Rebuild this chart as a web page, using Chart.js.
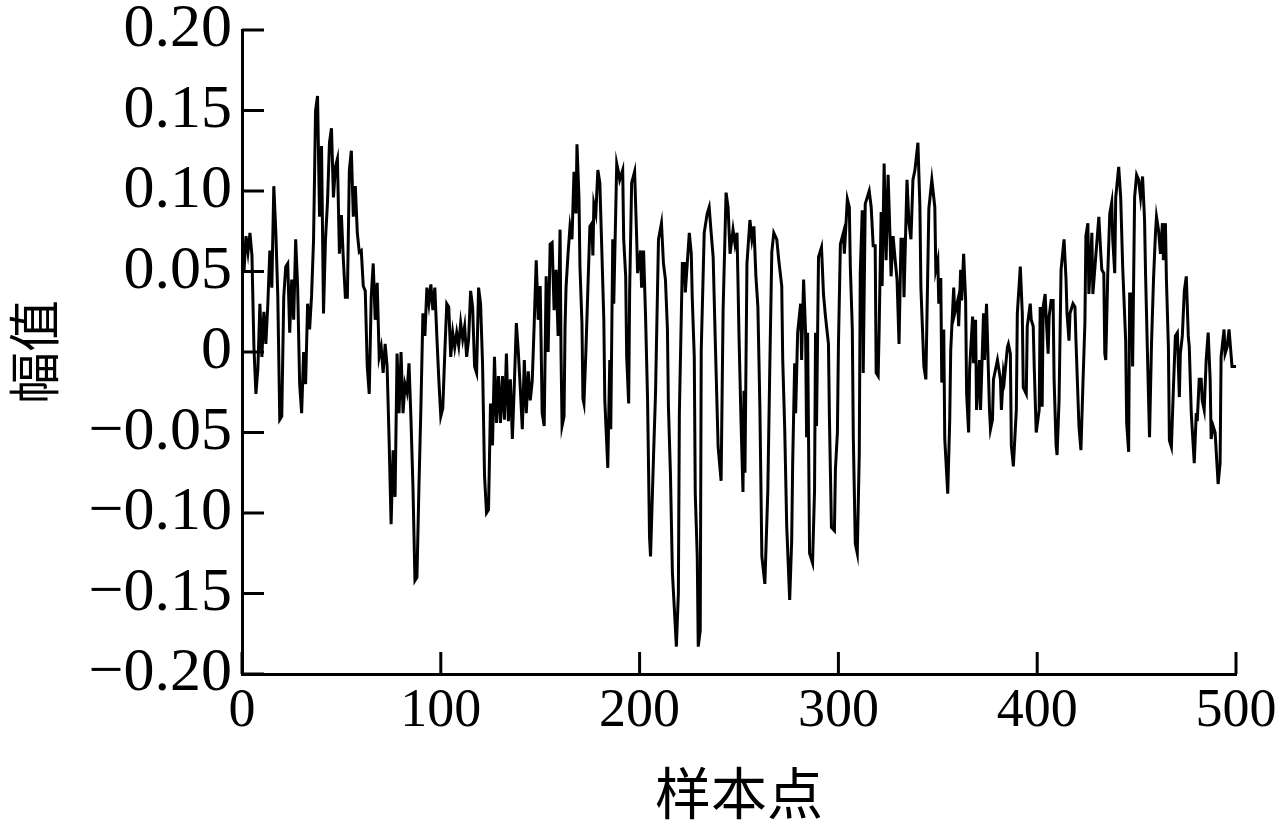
<!DOCTYPE html>
<html>
<head>
<meta charset="utf-8">
<script src="https://cdn.jsdelivr.net/npm/chart.js@4.4.1/dist/chart.umd.min.js"></script>
<style>
  html, body { margin: 0; padding: 0; background: #fff; }
  #wrap { width: 1288px; height: 832px; }
</style>
</head>
<body>
<div id="wrap"><canvas id="signalChart" width="1288" height="832"></canvas></div>
<script>
// --- Data (sample index / amplitude) ---
const samplePos = [
  0,1,2,3,4,5,6,7,8,9,
  10,11,12,13,14,15,16,17,18,19,
  20,21,22,23,24,25,26,27,28,29,
  30,31,32,33,34,35,36,37,38,39,
  40,41,42,43,44,45,46,47,48,49,
  50,51,52,53,54,55,56,57,58,59,
  60,61,62,63,64,65,66,67,68,69,
  70,71,72,73,74,75,76,77,78,79,
  80,81,82,83,84,85,86,87,88,89,
  90,91,92,93,94,95,96,97,98,99,
  100,101,102,103,104,105,106,107,108,109,
  110,111,112,113,114,115,116,117,118,119,
  120,121,122,123,124,125,126,127,128,129,
  130,131,132,133,134,135,136,137,138,139,
  140,141,142,143,144,145,146,147,148,149,
  150,151,152,153,154,155,156,157,158,159,
  160,160.5,161,162,162.5,163,164,165,166,167,
  168,168.5,169.5,170,171,171.5,172,173,174,175,
  176,176.5,177,178,179,180,181,182,182.5,184,
  185,185.5,186.5,187,188.5,189.5,190,191.5,192,193,
  193.5,194.5,195,196,197.5,198.5,199,200.5,201,202,
  203,204,205,205.5,207,208,209.5,211,212,213,
  214,214.5,215.5,216.5,218.5,219.5,220,221.5,222.5,223,
  225,226,226.5,227.5,228,229,229.5,230.5,231,232.5,
  234,235,236,237,238,239.5,241,
  242,243.5,244.5,245.5,247,248,249,249.5,250,251,
  252,252.5,253,254,255.5,256.5,257.5,258.5,259.5,260.5,
  261.5,263,264.5,265.5,266.5,267.5,269,270,271.5,272,
  273,274,275.5,276.5,277,278,278.5,279.5,281,281.5,
  282.5,283.5,284,284.5,285.5,287,288,288.5,289,290,
  291.5,292.5,293.5,295,295.5,296.5,298,298.5,299.5,300,
  301,302.5,303,304.5,305.5,306,307,307.5,308.5,309.5,
  310.5,311,312,312.5,313.5,315.5,316.5,317.5,318.5,319,
  320,320.5,321.5,322,323,324,
  325,326,326.5,327.5,328.5,329.5,330.5,331.5,332.5,333,
  334.5,335.5,336.5,337.5,338.5,340,341,341.5,343,344,
  344.5,345.5,347,348.5,349,350,350.5,351.5,352,353,
  353.5,355,356,356.5,358,358.5,360,360.5,361.5,362,
  363,364,364.5,365.5,366,367.5,368,369,369.5,371,
  371.5,373,373.5,374.5,376,376.5,377.5,378,379,380,
  381.5,382,383,383.5,385,385.5,386.5,387,388,389.5,
  390,391.5,392.5,393,394.5,395,396.5,397,398,398.5,
  399.5,401,401.5,
  402.5,403,404,404.5,405.5,406,407,408,408.5,409.5,
  410,411,412,413.5,414.5,415,416,416.5,418,419,
  419.5,421,422,423,424,424.5,425.5,426,427.5,428,
  429.5,431,432,432.5,433.5,434,434.5,435.5,436.5,437.5,
  438,439,439.5,441,442,443,444.5,445,446,446.5,
  447.5,448,449,450,451,452,453,454,454.5,455.5,
  456.5,457.5,458.5,459.5,460,461,462,463,463.5,464.5,
  465,466,466.5,467.5,468.5,469.5,470.5,471.5,472,473,
  474,475,476,476.5,477.5,479,480,480.5,481.5,482.5,
  483,484,485,486,487,487.5,488.5,489.5,491,492,
  492.5,494,494.5,495.5,496.5,498,500
];

const amplitude = [
  0.060,0.050,0.072,0.062,0.074,0.060,0.003,-0.026,-0.010,0.030,
  -0.003,0.025,0.005,0.030,0.063,0.040,0.103,0.075,0.035,-0.042,
  -0.040,0.034,0.053,0.055,0.012,0.045,0.020,0.070,0.040,-0.020,
  -0.038,0.000,-0.020,0.030,0.014,0.035,0.070,0.150,0.159,0.084,
  0.128,0.024,0.070,0.093,0.130,0.139,0.096,0.115,0.120,0.061,
  0.085,0.057,0.034,0.034,0.113,0.125,0.084,0.103,0.074,0.062,
  0.063,0.041,0.038,-0.009,-0.026,0.034,0.055,0.020,0.043,-0.003,
  0.003,-0.013,0.005,-0.009,-0.055,-0.107,-0.061,-0.090,-0.001,-0.038,
  0.000,-0.038,-0.020,-0.025,-0.007,-0.042,-0.084,-0.142,-0.140,-0.084,
  -0.034,0.024,0.010,0.040,0.030,0.042,0.026,0.040,0.010,-0.017,
  -0.040,-0.035,-0.001,0.030,0.028,-0.003,0.012,0.003,0.012,0.004,
  0.018,0.008,0.016,-0.003,0.008,0.038,0.028,-0.009,-0.013,0.040,
  0.030,-0.007,-0.077,-0.100,-0.098,-0.032,-0.058,-0.003,-0.044,-0.015,
  -0.044,-0.015,-0.042,-0.001,-0.043,-0.017,-0.054,-0.020,0.018,0.000,
  -0.023,-0.048,-0.005,-0.038,-0.012,-0.030,-0.018,0.018,0.057,0.020,
  0.041,-0.038,-0.046,0.047,0.000,0.067,0.068,0.026,0.051,0.010,
  0.076,-0.003,-0.046,-0.040,0.016,0.040,0.061,0.078,0.070,0.112,
  0.086,0.129,0.096,0.053,0.018,-0.029,-0.032,0.001,0.040,0.078,
  0.080,0.060,0.092,0.086,0.113,0.105,0.063,0.020,-0.030,-0.072,
  -0.005,-0.048,0.070,0.030,0.117,0.111,0.107,0.113,0.070,0.047,
  -0.003,-0.032,0.038,0.105,0.112,0.072,0.049,0.063,0.040,0.063,
  0.022,-0.029,-0.115,-0.127,-0.065,-0.026,0.070,0.080,0.055,0.045,
  0.014,-0.034,-0.075,-0.137,-0.183,-0.150,-0.038,0.055,0.055,0.037,
  0.074,0.061,0.033,-0.003,-0.088,-0.127,-0.183,-0.173,0.001,0.074,
  0.086,0.090,0.074,0.059,0.010,-0.059,-0.080,
  0.026,0.099,0.090,0.061,0.076,0.067,0.074,0.043,0.010,-0.042,
  -0.087,-0.024,-0.075,0.055,0.082,0.070,0.078,0.047,0.028,-0.034,
  -0.127,-0.144,-0.086,-0.009,0.062,0.074,0.070,0.057,0.041,-0.005,
  -0.048,-0.108,-0.154,-0.117,-0.069,-0.007,-0.038,0.012,0.030,-0.005,
  0.045,0.012,-0.053,0.012,-0.125,-0.131,-0.086,0.012,-0.046,0.059,
  0.065,0.036,0.022,0.005,-0.042,-0.109,-0.111,-0.073,-0.050,0.003,
  0.067,0.074,0.061,0.095,0.090,0.053,0.014,-0.053,-0.119,-0.125,
  -0.063,0.049,0.088,-0.013,0.092,0.100,0.090,0.066,0.066,-0.013,
  -0.015,0.014,0.087,0.041,0.117,0.057,
  0.110,0.070,0.047,0.072,0.058,0.045,0.005,0.070,0.070,0.034,
  0.107,0.080,0.070,0.107,0.113,0.130,0.090,0.040,-0.009,-0.017,
  0.018,0.089,0.107,0.090,0.051,0.057,0.030,0.046,-0.019,0.014,
  -0.054,-0.088,-0.042,0.001,0.040,0.024,0.032,0.016,0.051,0.032,
  0.061,0.032,-0.026,-0.050,-0.011,0.022,-0.007,0.020,-0.036,-0.005,
  -0.036,0.024,-0.005,0.030,-0.036,-0.048,-0.042,-0.017,-0.011,-0.005,
  -0.017,-0.036,-0.013,-0.017,0.003,0.005,-0.001,-0.058,-0.071,-0.036,
  0.024,0.053,0.024,-0.022,-0.026,0.016,0.030,0.020,0.016,-0.009,
  -0.050,-0.036,0.028,
  -0.034,0.028,0.036,0.022,-0.001,0.022,0.032,0.032,-0.017,-0.058,
  -0.064,-0.030,0.051,0.070,0.045,0.024,0.007,0.024,0.030,0.028,
  0.007,-0.046,-0.061,-0.020,0.018,0.072,0.080,0.036,0.074,0.036,
  0.060,0.084,0.061,0.051,0.049,-0.001,-0.005,0.049,0.086,0.093,
  0.070,0.049,0.096,0.115,0.096,0.053,0.007,-0.044,-0.062,0.036,
  0.036,-0.009,0.096,0.110,0.107,0.096,0.109,0.082,0.049,-0.003,
  -0.053,0.005,0.045,0.074,0.084,0.076,0.061,0.080,0.057,0.080,
  0.045,0.003,-0.055,-0.059,-0.023,0.010,0.012,-0.028,-0.001,0.010,
  0.038,0.047,0.010,0.003,-0.038,-0.069,-0.038,-0.043,-0.017,-0.017,
  -0.030,-0.036,-0.005,0.012,-0.017,-0.054,-0.046,-0.050,-0.082,-0.069,
  -0.003,0.014,-0.001,0.003,0.014,-0.009,-0.009
];

// --- Axis ticks and titles ---
const xTicks = [0, 100, 200, 300, 400, 500];
const yTicks = [-0.20, -0.15, -0.10, -0.05, 0, 0.05, 0.10, 0.15, 0.20];
const xTitle = '样本点';
const yTitle = '幅值';

// --- Helpers ---
function formatY(v) {
    if (Math.abs(v) < 1e-9) return '0';
    const s = Math.abs(v).toFixed(2);
    return v < 0 ? '\u2212' + s : s;
}

// ticks drawn pointing into the plot, like the original figure
const inwardTicks = {
    id: 'inwardTicks',
    afterDraw(chart) {
        const { ctx, chartArea, scales } = chart;
        ctx.save();
        ctx.strokeStyle = '#000';
        ctx.lineWidth = 3;
        xTicks.forEach(v => {
            const px = scales.x.getPixelForValue(v);
            ctx.beginPath();
            ctx.moveTo(px, chartArea.bottom);
            ctx.lineTo(px, chartArea.bottom - 22);
            ctx.stroke();
        });
        yTicks.forEach(v => {
            const py = scales.y.getPixelForValue(v);
            ctx.beginPath();
            ctx.moveTo(chartArea.left, py);
            ctx.lineTo(chartArea.left + 22, py);
            ctx.stroke();
        });
        ctx.restore();
    }
};

const points = samplePos.map((x, i) => ({ x: x, y: amplitude[i] }));

const ctx = document.getElementById('signalChart').getContext('2d');
new Chart(ctx, {
    type: 'line',
    data: {
        datasets: [{
            data: points,
            borderColor: '#000',
            borderWidth: 3,
            pointRadius: 0,
            tension: 0,
            fill: false
        }]
    },
    options: {
        responsive: false,
        animation: false,
        events: [],
        layout: { padding: { top: 30, right: 52, left: 0, bottom: 0 } },
        plugins: { legend: { display: false }, tooltip: { enabled: false } },
        scales: {
            x: {
                type: 'linear',
                min: 0,
                max: 500,
                afterBuildTicks: s => { s.ticks = xTicks.map(v => ({ value: v })); },
                afterFit: s => { s.height = 158; s.paddingLeft = 0; s.paddingRight = 0; },
                grid: { drawOnChartArea: false, drawTicks: false },
                border: { display: true, color: '#000', width: 3 },
                ticks: {
                    color: '#000',
                    padding: 11,
                    maxRotation: 0,
                    font: { family: '"Liberation Serif", "Times New Roman", serif', size: 54, lineHeight: 1 }
                },
                title: {
                    display: true,
                    text: xTitle,
                    color: '#000',
                    padding: { top: 0, bottom: 6 },
                    font: { family: '"Noto Sans CJK SC", sans-serif', size: 56, lineHeight: 1.2 }
                }
            },
            y: {
                min: -0.2,
                max: 0.2,
                afterBuildTicks: s => { s.ticks = yTicks.map(v => ({ value: v })); },
                afterFit: s => { s.width = 242; s.paddingTop = 0; s.paddingBottom = 0; },
                grid: { drawOnChartArea: false, drawTicks: false },
                border: { display: true, color: '#000', width: 3 },
                ticks: {
                    color: '#000',
                    padding: 10,
                    callback: v => formatY(v),
                    font: { family: '"Liberation Serif", "Times New Roman", serif', size: 62, lineHeight: 1 }
                },
                title: {
                    display: true,
                    text: yTitle,
                    color: '#000',
                    padding: { top: 3, bottom: 0 },
                    font: { family: '"Noto Sans CJK SC", sans-serif', size: 52, lineHeight: 1.2 }
                }
            }
        }
    },
    plugins: [inwardTicks]
});
</script>
</body>
</html>
